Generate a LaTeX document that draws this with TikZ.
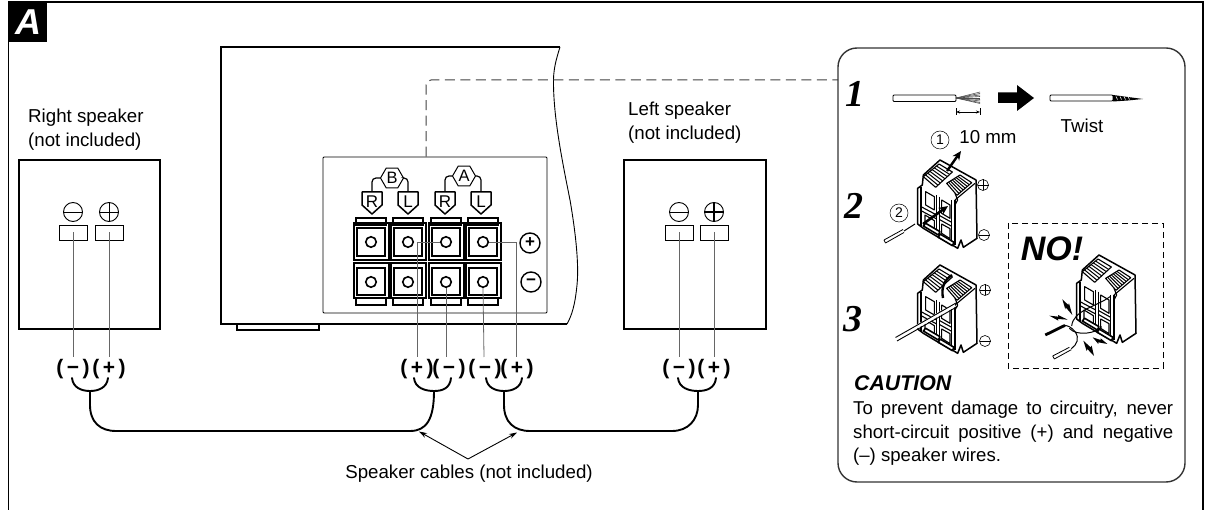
\documentclass[tikz,border=0pt]{standalone}
\usepackage{fontspec}
\setmainfont{Liberation Sans}
\newfontfamily\numfont{Liberation Serif}
\usetikzlibrary{shapes.geometric,arrows.meta,calc}
\tikzset{
  txt/.style={inner sep=0pt,font=\fontsize{18.7}{23.5}\selectfont,align=left},
  thickline/.style={line width=1.8pt,black},
  wire/.style={line width=.8pt,black!60},
  term/.style={draw=black,line width=.9pt,minimum width=28pt,minimum height=15pt,inner sep=0pt},
  pol/.style={circle,draw=black,line width=.9pt,minimum size=19pt,inner sep=0pt},
  lab/.style={inner sep=0pt,minimum height=24pt,font=\fontsize{21}{21}\selectfont\bfseries},
  cable/.style={line width=1.9pt,black,line cap=round},
  hole/.style={circle,draw=black,line width=1.6pt,minimum size=10.5pt,inner sep=0pt},
  hex/.style={regular polygon,regular polygon sides=6,draw=black,line width=1pt,minimum size=23pt,inner sep=0pt,font=\fontsize{16.5}{16.5}\selectfont},
  shieldtxt/.style={inner sep=0pt,font=\fontsize{17}{17}\selectfont},
  small/.style={circle,draw=black,line width=.6pt,minimum size=11pt,inner sep=0pt},
  stepnum/.style={inner sep=0pt,font=\fontsize{38}{38}\selectfont\numfont\bfseries\itshape},
  blk/.style={line width=1.1pt,black,line join=round},
  numcirc/.style={circle,draw=black,line width=.5pt,minimum size=18pt,inner sep=0pt,font=\fontsize{14}{14}\selectfont},
}
\newcommand\poslab[1]{(\kern3.5pt#1\kern3.5pt)}
\newcommand\terminal[5]{%
  \draw[line width=2pt] (#2-17.5,#3-19) rectangle (#2+17.5,#3+#5);
  \draw[line width=1.8pt] (#2-14,#3-14) rectangle (#2+14,#3+14);
  \node[hole] (#1) at (#2,#3) {};
}
\newcommand\shield[4]{%
  \draw[line width=1.5pt,line join=round] (#2-10,#3) -- (#2+10,#3) -- (#2+10,#3+13) -- (#2,#3+22) -- (#2-10,#3+13) -- cycle;
  \coordinate (#1) at (#2,#3);
  \node[shieldtxt] at (#2,#3+10) {#4};
}
\newcommand\lever[8]{%
  \draw[blk,fill=white] (#1,#2)--(#3,#4)--(#5,#6)--(#7,#8)--cycle;
  \foreach \t in {.14,.28,.42,.56,.7,.84}{
    \draw[line width=1pt] ($(#1,#2)!\t!(#3,#4)$) -- ($(#7,#8)!\t!(#5,#6)$);
  }
}
\newcommand\cblock[2]{%
\begin{scope}[shift={(#1,#2)},x=.3333pt,y=-.3333pt]
  \draw[blk,line width=1.5pt,fill=white] (135,30)--(243,90)--(246,265)--(205,292)--(198,270)--(188,295)--(172,285)--(130,262)--(85,235)--(68,222)--(68,115)--(82,105)--(85,75)--cycle;
  \draw[blk,line width=1.4pt] (78,112)--(78,228);
  \draw[blk,line width=1.5pt] (125,135)--(125,250) (134,140)--(134,255);
  \draw[blk,line width=1.5pt] (170,150)--(170,280) (180,150)--(180,285);
  \draw[blk] (180,150)--(240,100);
  \draw[blk] (78,170)--(125,195) (78,182)--(125,207) (134,197)--(170,217) (134,209)--(170,229);
  \draw[blk] (92,125)--(92,165)--(118,180)--(118,140)--cycle;
  \draw[blk] (140,150)--(140,190)--(165,205)--(165,165)--cycle;
  \draw[blk] (90,195)--(90,225)--(118,240)--(118,212)--cycle;
  \draw[blk] (140,222)--(140,250)--(165,266)--(165,236)--cycle;
  \lever{85}{80}{132}{42}{172}{66}{122}{112}
  \lever{155}{100}{195}{75}{230}{98}{186}{136}
  \draw[blk,line width=1.6pt,fill=white] (85,228)--(130,255)--(135,245)--(92,220)--cycle;
  \draw[blk,line width=1.6pt,fill=white] (130,262)--(172,287)--(177,277)--(135,252)--cycle;
  \draw[blk] (180,130)--(188,150)--(180,165);
\end{scope}}
\begin{document}
\begin{tikzpicture}[x=1pt,y=-1pt]
\useasboundingbox (0,0) rectangle (1207,510);
% frame
\draw[line width=1.8pt] (8.5,510) -- (8.5,2) -- (1203,2) -- (1203,510);
\fill[black] (8,2) rectangle (47,42);
\node[inner sep=0pt,text=white,font=\fontsize{36}{36}\selectfont\bfseries\itshape] (tagA) at (28,22) {A};
% amplifier
\draw[thickline] (567,324) -- (221,324) -- (221,47) -- (560,47);
\draw[line width=.9pt] (560,47) .. controls (556,60) and (553,70) .. (553.5,85) .. controls (554,120) and (562,160) .. (570,200) .. controls (576,235) and (579,265) .. (577,285) .. controls (575,305) and (572,315) .. (567,324);
\draw[line width=1.6pt] (237,325) -- (237,330) -- (319,330) -- (319,325);
% rear panel
\node[draw=black,line width=.9pt,rounded corners=1pt,minimum width=224pt,minimum height=156pt,inner sep=0pt] (panel) at (435,235) {};
% dashed leader
\coordinate (lead) at (838,80);
\draw[line width=1pt,black!75,dash pattern=on 10pt off 5.5pt,rounded corners=5pt] (panel.north -| 426,155) -- (426,80) -- (lead);
% terminals upper
\foreach \c/\n in {371/a,408/b,446/c,483/d}{
  \draw[line width=1.2pt] (\c-15,218) rectangle (\c+15,225);
}
\terminal{ub1}{371}{242}{}{18}
\terminal{ub2}{408}{242}{}{18}
\terminal{ua1}{446}{242}{}{18}
\terminal{ua2}{483}{242}{}{18}
% lower
\foreach \c/\n in {371/a,408/b,446/c,483/d}{
  \draw[line width=1.2pt] (\c-15,298) rectangle (\c+15,305);
  \draw[line width=2pt] (\c-17.5,263) rectangle (\c+17.5,298);
  \draw[line width=1.8pt] (\c-14,268) rectangle (\c+14,295);
}
\node[hole] (lb1) at (371,282) {};
\node[hole] (lb2) at (408,282) {};
\node[hole] (la1) at (446,282) {};
\node[hole] (la2) at (483,282) {};
% plus/minus
\node[circle,draw=black,line width=1.4pt,minimum size=20pt,inner sep=0pt,font=\fontsize{17}{17}\selectfont\bfseries] (pp) at (530,243) {+};
\node[circle,draw=black,line width=1.4pt,minimum size=20pt,inner sep=0pt,font=\fontsize{17}{17}\selectfont\bfseries] (pm) at (531,282) {−};
% hex and shields
\node[hex] (hB) at (392,178) {B};
\node[hex] (hA) at (464,176) {A};
\shield{sR1}{372}{192}{R}
\shield{sL1}{408}{192}{L}
\shield{sR2}{445}{192}{R}
\shield{sL2}{481}{192}{L}
\draw[line width=1.2pt,rounded corners=4pt] (hB.corner 3) -- (372,178) -- (sR1);
\draw[line width=1.2pt,rounded corners=4pt] (hB.corner 6) -- (408,178) -- (sL1);
\draw[line width=1.2pt,rounded corners=4pt] (hA.corner 3) -- (445,176) -- (sR2);
\draw[line width=1.2pt,rounded corners=4pt] (hA.corner 6) -- (481,176) -- (sL2);
% speakers
\node[draw=black,thickline,minimum width=141pt,minimum height=169pt,inner sep=0pt] (rspk) at (89.5,244.5) {};
\node[draw=black,thickline,minimum width=142pt,minimum height=169pt,inner sep=0pt] (lspk) at (695,244.5) {};
\node[txt,anchor=north west] (rtxt) at (28,109) {Right speaker\\(not included)};
\node[txt,anchor=north west] (ltxt) at (628,102) {Left speaker\\(not included)};
\node[term] (rm) at (73,232.5) {};
\node[term] (rp) at (109,232.5) {};
\node[term] (lm) at (679,232.5) {};
\node[term] (lp) at (714,232.5) {};
\node[pol] (rmc) at (73,212) {};\draw[line width=.9pt] (63.5,212)--(82.5,212);
\node[pol] (rpc) at (109,212) {};\draw[line width=.9pt] (99.5,212)--(118.5,212) (109,202.5)--(109,221.5);
\node[pol] (lmc) at (679,212) {};\draw[line width=.9pt] (669.5,212)--(688.5,212);
\node[pol] (lpc) at (714,212) {};\draw[line width=1.3pt] (704.5,212)--(723.5,212) (714,202.5)--(714,221.5);
% labels
\node[lab] (L1) at (73,369) {\poslab{−}};
\node[lab] (L2) at (109,369) {\poslab{+}};
\node[lab] (L3) at (417,369) {\poslab{+}};
\node[lab] (L4) at (449,369) {\poslab{−}};
\node[lab] (L5) at (485,369) {\poslab{−}};
\node[lab] (L6) at (517,369) {\poslab{+}};
\node[lab] (L7) at (679,369) {\poslab{−}};
\node[lab] (L8) at (714,369) {\poslab{+}};
% wires
\draw[wire] (rm.center) -- (L1.north);
\draw[wire] (rp.center) -- (L2.north);
\draw[wire] (lm.center) -- (L7.north);
\draw[wire] (lp.center) -- (L8.north);
\draw[wire] (ua1.west) -- (417,242) -- (417,357);
\draw[wire] (la1.south) -- (446,357);
\draw[wire] (la2.south) -- (484,357);
\draw[wire] (ua2.east) -- (516,242) -- (516,357);
% cables
\coordinate (c1) at (90,391);
\coordinate (c2) at (434,391);
\coordinate (c3) at (504,391);
\coordinate (c4) at (698,391);
\draw[cable] (72,378) .. controls (73,388) and (82,391) .. (c1) .. controls (98,391) and (107,388) .. (108,378);
\draw[cable] (414,378) .. controls (415,388) and (425,391) .. (c2) .. controls (443,391) and (450,388) .. (451,378);
\draw[cable] (486,378) .. controls (487,388) and (496,391) .. (c3) .. controls (512,391) and (521,388) .. (522,378);
\draw[cable] (678,378) .. controls (679,388) and (689,391) .. (c4) .. controls (707,391) and (715,388) .. (716,378);
\draw[cable] (c1) -- (90,405) .. controls (90,422) and (100,431) .. (116,431) -- (410,431) .. controls (426,431) and (434,420) .. (c2);
\draw[cable] (c3) -- (504,405) .. controls (504,422) and (514,431) .. (530,431) -- (672,431) .. controls (688,431) and (698,420) .. (698,405) -- (c4);
% cable label
\node[txt] (ctxt) at (469,474) {Speaker cables (not included)};
\coordinate (apex) at (468,459);
\draw[line width=.9pt,-{Stealth[length=8pt,width=5pt]}] (apex) -- (419,431.5);
\draw[line width=.9pt,-{Stealth[length=8pt,width=5pt]}] (apex) -- (517,432.5);
% instruction box
\node[draw=black!80,line width=1.4pt,rounded corners=19pt,minimum width=347pt,minimum height=434pt,inner sep=0pt] (box) at (1011.5,265) {};
\node[stepnum] (n1) at (855,94) {1};
\node[stepnum] (n2) at (854,206) {2};
\node[stepnum] (n3) at (853,319) {3};
% step 1
\draw[line width=.9pt,fill=white,rounded corners=1pt] (893,95) rectangle (956,101.5);
\foreach \y in {92,93.5,95,96.5,98,99.5,101,102.5,103.5}{\draw[line width=.6pt,black!70] (956,98) -- (980,\y);}
\draw[line width=.7pt,{Stealth[length=4pt,width=3pt]}-{Stealth[length=4pt,width=3pt]}] (956,112) -- (980,112);
\draw[line width=.7pt] (956,108.5)--(956,115.5) (980,108.5)--(980,115.5);
\fill[black] (998,92.5) -- (1017,92.5) -- (1017,85) -- (1034,98) -- (1017,111) -- (1017,103) -- (998,103) -- cycle;
\draw[line width=.9pt,fill=white,rounded corners=1pt] (1050,95) rectangle (1113,101);
\fill[black] (1113,95) -- (1128,97) -- (1143,99) -- (1128,100.5) -- (1113,101.5) -- cycle;
\foreach \x in {1116,1120,1124,1128}{\draw[white,line width=.6pt] (\x,96.5)--(\x+1.5,99.5);}
\node[txt] (twist) at (1082,126) {Twist};
\node[txt] (mm) at (988,137) {10 mm};
\node[numcirc] (c1st) at (940,140) {1};
\node[numcirc] (c2nd) at (899,213) {2};
% blocks
\cblock{895}{150}
\cblock{895}{255}
\cblock{1054}{245}
% plus/minus by blocks
\node[small] (sp2) at (983,185) {};\draw[line width=.6pt] (977.5,185)--(988.5,185) (983,179.5)--(983,190.5);
\node[small] (sm2) at (984,235) {};\draw[line width=.6pt] (978.5,235)--(989.5,235);
\node[small] (sp3) at (985,290) {};\draw[line width=.6pt] (979.5,290)--(990.5,290) (985,284.5)--(985,295.5);
\node[small] (sm3) at (985,341) {};\draw[line width=.6pt] (979.5,341)--(990.5,341);
% step 2 arrows and wire
\draw[line width=2.4pt,-{Stealth[length=9pt,width=8pt]}] (947,171) -- (961,151);
\draw[line width=.8pt] (884,240) -- (903,229.5) (885.5,243) -- (904,232.5) (884,240) -- (885.5,243);
\draw[line width=1pt] (904,231) -- (915,224);
\draw[line width=2.6pt,-{Stealth[length=9pt,width=8pt]}] (923,224) -- (948,206);
% step 3
\draw[white,line width=3.6pt] (895,339) -- (955,305);
\draw[line width=.9pt] (895.5,337.5) -- (956,303) (897,341) -- (957.5,306.5);
\draw[line width=2.4pt] (943,298) .. controls (941,288) and (944,280) .. (952,275);
% NO
\draw[line width=.9pt,dash pattern=on 6pt off 4pt] (1008,223) rectangle (1163,368);
\node[inner sep=0pt,font=\fontsize{34}{34}\selectfont\bfseries\itshape] (no) at (1052,249) {NO!};
\begin{scope}[shift={(1030,250)},x=.3333pt,y=-.3333pt]
  \draw[line width=2.8pt] (46,255) -- (105,226);
  \draw[line width=.8pt] (68,318) -- (118,292) (73,327) -- (124,299) (68,318) -- (73,327);
  \draw[line width=1pt] (124,296) .. controls (140,285) and (150,265) .. (135,245) .. controls (125,232) and (115,228) .. (105,226);
  \draw[line width=1pt] (118,235) .. controls (140,260) and (200,250) .. (215,230) (125,228) .. controls (130,180) and (200,170) .. (240,140);
  \fill (97,148)--(115,165)--(117,160)--(127,195)--(107,172)--(106,178)--cycle;
  \fill (58,197)--(85,200)--(84,195)--(113,209)--(83,207)--(85,212)--cycle;
  \fill (188,262)--(212,270)--(212,265)--(232,282)--(205,277)--(205,282)--cycle;
  \fill (160,272)--(182,292)--(185,287)--(192,318)--(172,297)--(170,303)--cycle;
\end{scope}
% caution
\node[inner sep=0pt,anchor=base west,font=\fontsize{21.3}{21.3}\selectfont\bfseries\itshape] (caut) at (854,390) {CAUTION};
\node[inner sep=0pt,anchor=north west,text width=320pt,align=justify,font=\fontsize{18.6}{23.5}\selectfont] (ctext) at (853,401) {To prevent damage to circuitry, never\linebreak short-circuit positive (+) and negative\linebreak (–) speaker wires.};
\end{tikzpicture}
\end{document}
